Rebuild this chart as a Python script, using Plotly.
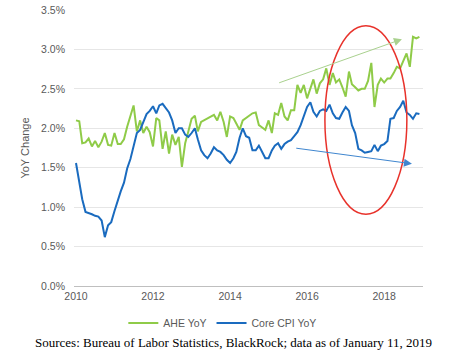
import pandas as pd
import plotly.graph_objects as go

start_month = "2010-01-01"
n_months = 108

ahe_yoy = [
    2.10, 2.09, 1.81, 1.82, 1.87, 1.77, 1.84, 1.76, 1.83, 1.94, 1.79, 1.78,
    1.94, 1.80, 1.80, 1.86, 2.02, 2.15, 2.29, 1.96, 2.10, 1.94, 2.02, 1.95,
    1.77, 2.13, 2.10, 1.74, 1.96, 1.68, 1.92, 1.79, 1.89, 1.51, 1.81, 1.96,
    2.12, 2.16, 1.96, 2.08, 2.10, 2.13, 2.15, 2.17, 2.10, 2.21, 2.08, 1.89,
    2.15, 2.13, 2.06, 1.98, 2.10, 2.13, 2.17, 2.19, 2.20, 2.04, 2.01, 1.98,
    2.10, 1.94, 2.19, 2.17, 2.32, 2.15, 2.10, 2.23, 2.23, 2.55, 2.45, 2.55,
    2.38, 2.51, 2.62, 2.44, 2.57, 2.62, 2.76, 2.55, 2.70, 2.58, 2.62, 2.52,
    2.40, 2.72, 2.56, 2.52, 2.48, 2.50, 2.50, 2.60, 2.83, 2.27, 2.55, 2.63,
    2.58, 2.63, 2.63, 2.70, 2.78, 2.76, 2.86, 2.95, 2.78, 3.16, 3.14, 3.16,
]

core_cpi_yoy = [
    1.56, 1.30, 1.10, 0.94, 0.93, 0.91, 0.89, 0.88, 0.83, 0.62, 0.77, 0.81,
    0.95, 1.09, 1.20, 1.31, 1.49, 1.61, 1.77, 1.94, 1.98, 2.08, 2.18, 2.22,
    2.28, 2.19, 2.29, 2.31, 2.25, 2.20, 2.10, 1.94, 2.00, 2.00, 1.92, 1.89,
    1.94, 2.00, 1.86, 1.72, 1.66, 1.62, 1.68, 1.76, 1.72, 1.70, 1.66, 1.60,
    1.56, 1.62, 1.70, 1.88, 2.00, 1.90, 1.88, 1.72, 1.72, 1.78, 1.70, 1.62,
    1.62, 1.72, 1.78, 1.81, 1.74, 1.80, 1.83, 1.85, 1.90, 1.95, 2.04, 2.16,
    2.27, 2.33, 2.21, 2.15, 2.22, 2.24, 2.22, 2.30, 2.19, 2.13, 2.12, 2.20,
    2.27, 2.22, 2.04, 1.94, 1.74, 1.72, 1.69, 1.70, 1.71, 1.79, 1.71, 1.78,
    1.80, 1.84, 2.12, 2.13, 2.22, 2.27, 2.35, 2.20, 2.17, 2.12, 2.19, 2.18,
]

y_ticks = [0.0, 0.5, 1.0, 1.5, 2.0, 2.5, 3.0, 3.5]
y_tick_labels = ["0.0%", "0.5%", "1.0%", "1.5%", "2.0%", "2.5%", "3.0%", "3.5%"]
x_ticks = ["2010-01-01", "2012-01-01", "2014-01-01", "2016-01-01", "2018-01-01"]
x_tick_labels = ["2010", "2012", "2014", "2016", "2018"]

months = pd.date_range(start_month, periods=n_months, freq="MS")

GREEN = "#8FCB48"
BLUE = "#1A6BBF"
TXT = "#595959"
FONT = "Liberation Sans, Arial, sans-serif"

fig = go.Figure()
fig.add_trace(go.Scatter(x=months, y=ahe_yoy, mode="lines", name="AHE YoY",
                         line=dict(color=GREEN, width=2)))
fig.add_trace(go.Scatter(x=months, y=core_cpi_yoy, mode="lines", name="Core CPI YoY",
                         line=dict(color=BLUE, width=2)))

# red ellipse highlighting 2017
fig.add_shape(type="circle", xref="x", yref="y",
              x0="2016-06-18", x1="2018-08-04", y0=0.91, y1=3.30,
              line=dict(color="#E8322B", width=1.5))

# trend arrows
fig.add_annotation(x="2018-06-18", y=3.13, ax="2015-03-28", ay=2.57,
                   xref="x", yref="y", axref="x", ayref="y", text="",
                   showarrow=True, arrowhead=2, arrowsize=1.6, arrowwidth=1,
                   arrowcolor="#A9D18E")
fig.add_annotation(x="2018-09-21", y=1.55, ax="2015-09-06", ay=1.75,
                   xref="x", yref="y", axref="x", ayref="y", text="",
                   showarrow=True, arrowhead=2, arrowsize=1.6, arrowwidth=1,
                   arrowcolor="#3F86CF")

fig.add_annotation(text="Sources: Bureau of Labor Statistics, BlackRock; data as of January 11, 2019",
                   xref="paper", yref="paper", x=0.456, y=-0.2065,
                   xanchor="center", yanchor="middle", showarrow=False,
                   font=dict(family="Liberation Serif, Times New Roman, serif", size=13, color="#000000"))

fig.update_layout(
    width=465, height=359,
    margin=dict(l=74, r=42, t=10, b=73, autoexpand=False),
    paper_bgcolor="white", plot_bgcolor="white",
    font=dict(family=FONT, size=10.5, color=TXT),
    showlegend=True,
    legend=dict(orientation="h", x=0.425, xanchor="center", y=-0.134, yanchor="middle",
                font=dict(size=10.5, color=TXT), tracegroupgap=0),
)
fig.update_xaxes(type="date", range=["2009-12-13", "2019-01-04"],
                 tickmode="array", tickvals=x_ticks, ticktext=x_tick_labels,
                 showgrid=False, showline=True, linecolor="#BFBFBF", linewidth=1,
                 ticks="", zeroline=False, automargin=False,
                 tickfont=dict(size=10.5, color=TXT))
fig.update_yaxes(range=[0, 3.5], tickmode="array", tickvals=y_ticks, ticktext=y_tick_labels,
                 showgrid=True, gridcolor="#E6E6E6",
                 gridwidth=1, zeroline=False, showline=False, ticks="",
                 ticklabelstandoff=8, automargin=False,
                 title=dict(text="YoY Change", font=dict(size=11, color=TXT), standoff=9),
                 tickfont=dict(size=10.5, color=TXT))

fig.write_html("out.html", config={"displayModeBar": False},
               post_script="document.body.style.margin='0';")
